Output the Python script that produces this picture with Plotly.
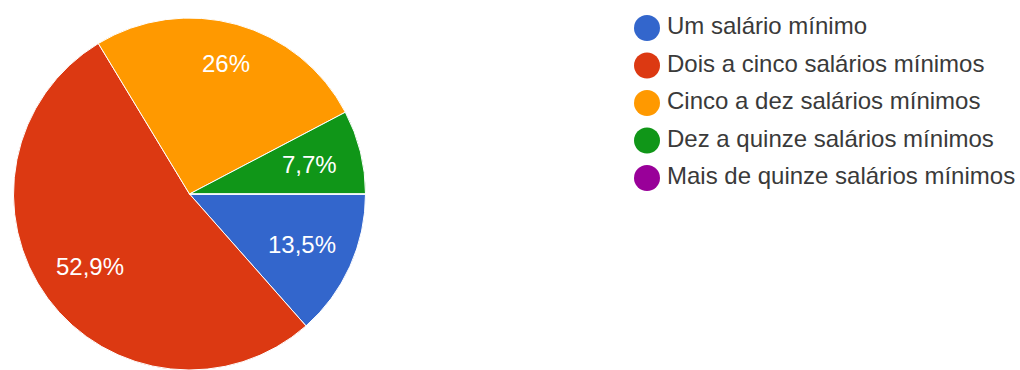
import math
import plotly.graph_objects as go

# Faixas de renda e percentuais
categorias = [
    "Um salário mínimo",
    "Dois a cinco salários mínimos",
    "Cinco a dez salários mínimos",
    "Dez a quinze salários mínimos",
    "Mais de quinze salários mínimos",
]
percentuais = [13.5, 52.9, 26.0, 7.7, 0.0]
cores = ["#3366cc", "#dc3912", "#ff9900", "#109618", "#990099"]

W, H = 1020, 370
FONTE = "Liberation Sans, Arial, sans-serif"

# Geometria da pizza (pixels)
cx_px, raio_px = 189.5, 176.0
cy_px = H - raio_px
dom_x = [(cx_px - raio_px) / W, (cx_px + raio_px) / W]
dom_y = [0.0, 2 * raio_px / H]

# Distância radial dos rótulos (fração do raio), por fatia
dist_rotulo = [0.70, 0.70, 0.77, 0.70, 0.70]


def rotulo(v):
    s = f"{v:.1f}".rstrip("0").rstrip(".")
    return s.replace(".", ",") + "%"


fig = go.Figure()

fig.add_trace(go.Pie(
    labels=categorias,
    values=percentuais,
    textinfo="none",
    sort=False,
    direction="clockwise",
    rotation=90,
    marker=dict(colors=cores, line=dict(color="white", width=1)),
    domain=dict(x=dom_x, y=dom_y),
    showlegend=False,
    hoverinfo="label+percent",
))

# Rótulos percentuais no ângulo médio de cada fatia
total = sum(percentuais)
acum = 0.0
for v, k in zip(percentuais, dist_rotulo):
    if v > 0:
        meio = (acum + v / 2) / total * 2 * math.pi  # horário a partir das 3h
        px = cx_px + k * raio_px * math.cos(meio)
        py = cy_px + k * raio_px * math.sin(meio)
        fig.add_annotation(
            x=px / W, y=1 - py / H, xref="paper", yref="paper",
            text=rotulo(v), showarrow=False,
            font=dict(family=FONTE, size=24, color="white"),
            xanchor="center", yanchor="middle",
        )
    acum += v

# Legenda: marcadores circulares
fig.add_trace(go.Scatter(
    x=[0] * len(categorias),
    y=list(range(len(categorias))),
    mode="markers",
    marker=dict(color=cores, size=26, symbol="circle"),
    showlegend=False,
    hoverinfo="skip",
    xaxis="x", yaxis="y",
))
# Legenda: nomes das faixas
fig.add_trace(go.Scatter(
    x=[20] * len(categorias),
    y=list(range(len(categorias))),
    mode="text",
    text=categorias,
    textposition="middle right",
    textfont=dict(family=FONTE, size=24, color="#3a3a3a"),
    showlegend=False,
    hoverinfo="skip",
    xaxis="x", yaxis="y",
))

x0_px = 0.6 * W
fig.update_layout(
    width=W, height=H,
    margin=dict(l=0, r=0, t=0, b=0),
    paper_bgcolor="white",
    plot_bgcolor="rgba(0,0,0,0)",
    xaxis=dict(domain=[0.6, 1.0], range=[x0_px - 647, W - 647], visible=False,
               fixedrange=True),
    yaxis=dict(domain=[0.0, 1.0], range=[(H - 28) / 37.5, -28 / 37.5], visible=False,
               fixedrange=True),
)

fig.write_html("out.html")
